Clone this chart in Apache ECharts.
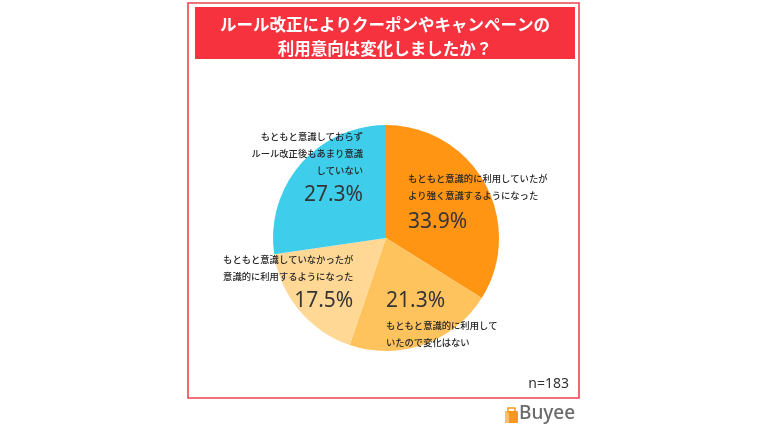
<!DOCTYPE html>
<html><head><meta charset="utf-8">
<script src="https://cdn.jsdelivr.net/npm/echarts@6/dist/echarts.min.js"></script>
<style>html,body{margin:0;padding:0;background:#fff}#c{width:770px;height:433px}</style>
</head><body><div id="c"></div>
<script>
const titleText = 'ルール改正によりクーポンやキャンペーンの\n利用意向は変化しましたか？';
const categories = [
  'もともと意識的に利用していたがより強く意識するようになった',
  'もともと意識的に利用していたので変化はない',
  'もともと意識していなかったが意識的に利用するようになった',
  'もともと意識しておらずルール改正後もあまり意識していない'
];
const labelLines = [
  ['もともと意識的に利用していたが', 'より強く意識するようになった'],
  ['もともと意識的に利用して', 'いたので変化はない'],
  ['もともと意識していなかったが', '意識的に利用するようになった'],
  ['もともと意識しておらず', 'ルール改正後もあまり意識', 'していない']
];
const values = [33.9, 21.3, 17.5, 27.3];
const colors = ['#FF9512', '#FFC35E', '#FFD896', '#3ECDEB'];
const sampleNote = 'n=183';

// label placement tweaks (layout only)
const labelShift = [
  {dx: -30, dy: -4, align: 'left'},
  {dx: -20, dy: 24, align: 'left'},
  {dx: 13, dy: 8, align: 'right'},
  {dx: 22, dy: -30, align: 'right'}
];

const chart = echarts.init(document.getElementById('c'), null, {renderer: 'canvas'});
const option = {
  animation: false,
  backgroundColor: '#ffffff',
  title: {
    text: titleText,
    left: 'center',
    top: 13,
    padding: 0,
    textStyle: {
      color: '#ffffff',
      fontFamily: 'Noto Sans CJK JP',
      fontWeight: 'bold',
      fontSize: 16.5,
      lineHeight: 24
    }
  },
  graphic: [
    {type: 'rect', z: -1, shape: {x: 188, y: 3, width: 391, height: 395},
     style: {fill: 'none', stroke: '#E8464E', lineWidth: 1.6}},
    {type: 'rect', z: -1, shape: {x: 195, y: 7, width: 380, height: 52},
     style: {fill: '#F5323E'}},
    {type: 'text', right: 770 - 569, top: 377,
     style: {text: sampleNote, fill: '#333333', font: '14px "Noto Sans", sans-serif'}},
    {type: 'rect', shape: {x: 505, y: 411, width: 13, height: 12, r: 1}, style: {fill: '#F39A1E'}},
    {type: 'rect', shape: {x: 505, y: 411, width: 4, height: 12, r: 1}, style: {fill: '#F8C06A'}},
    {type: 'rect', shape: {x: 508, y: 408, width: 7, height: 4}, style: {fill: 'none', stroke: '#F39A1E', lineWidth: 1.5}},
    {type: 'text', left: 519, top: 404,
     style: {text: 'Buyee', fill: '#6a6a6a', font: '500 19px "Noto Sans", sans-serif'}}
  ],
  series: [{
    type: 'pie',
    center: [386, 238],
    radius: [0, 113],
    startAngle: 90,
    clockwise: true,
    silent: true,
    itemStyle: {borderWidth: 0},
    label: {
      show: true,
      position: 'inside',
      formatter: function (p) {
        const lines = labelLines[p.dataIndex].map(function (s) { return '{t|' + s + '}'; });
        const pctKey = p.dataIndex === 0 ? 'po' : 'p';
        const pct = '{' + pctKey + '|' + values[p.dataIndex].toFixed(1) + '%}';
        if (p.dataIndex === 1) return [pct].concat(lines).join('\n');
        return lines.concat([pct]).join('\n');
      },
      rich: {
        t: {fontFamily: 'Noto Sans CJK JP', fontWeight: 500, fontSize: 9.3, lineHeight: 17, color: '#262626'},
        p: {fontFamily: '"Noto Sans", sans-serif', fontSize: 21, lineHeight: 32, color: '#353535'},
        po: {fontFamily: '"Noto Sans", sans-serif', fontSize: 21, lineHeight: 37, color: '#353535'}
      }
    },
    labelLine: {show: false},
    labelLayout: function (params) {
      const s = labelShift[params.dataIndex];
      return {dx: s.dx, dy: s.dy, align: s.align, verticalAlign: 'middle'};
    },
    data: categories.map(function (name, i) {
      return {name: name, value: values[i], itemStyle: {color: colors[i]}};
    })
  }]
};
chart.setOption(option);
</script>
</body></html>
